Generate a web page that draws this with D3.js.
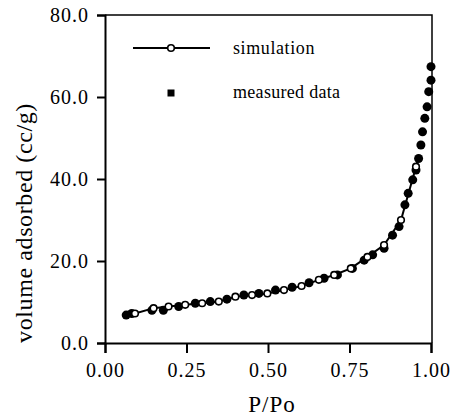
<!DOCTYPE html>
<html>
    <head>
        <title>Adsorption Isotherm</title>
        <script src="https://d3js.org/d3.v7.min.js"></script>
        <style>
            body { margin: 0; background: #fff; }
            text { font-family: "Liberation Serif", "DejaVu Serif", serif; fill: #000; }
        </style>
    </head>
    <body>
        <svg id="chart" width="453" height="416"></svg>
        <script>
            // measured data (filled dots)
            var measuredP = [0.065, 0.082, 0.144, 0.179, 0.226, 0.277, 0.323, 0.374, 0.426, 0.472, 0.523, 0.574, 0.626, 0.672, 0.713, 0.759, 0.795, 0.821, 0.856, 0.882, 0.902, 0.920, 0.930, 0.944, 0.954, 0.962, 0.969, 0.974, 0.981, 0.988, 0.993, 1.0, 1.0];
            var measuredV = [6.8, 7.2, 8.0, 8.0, 8.9, 9.7, 10.1, 10.7, 11.7, 12.1, 12.9, 13.6, 14.7, 15.8, 16.6, 18.2, 20.2, 21.5, 23.1, 26.3, 28.4, 33.7, 36.5, 39.8, 42.2, 45.0, 48.3, 51.5, 54.8, 57.6, 61.3, 64.1, 67.4];

            // simulation (open circles + line)
            var simP = [0.072, 0.092, 0.149, 0.195, 0.246, 0.298, 0.349, 0.400, 0.451, 0.498, 0.549, 0.603, 0.656, 0.703, 0.754, 0.805, 0.856, 0.908, 0.954, 0.962];
            var simV = [6.9, 7.2, 8.5, 8.9, 9.3, 9.7, 10.1, 11.3, 11.7, 12.1, 12.9, 13.9, 15.4, 16.6, 18.2, 21.0, 23.9, 30.0, 43.0, 45.5];
            var simMarked = [false, true, true, true, true, true, true, true, true, true, true, true, true, true, true, true, true, true, true, false];

            var xTicks = [0, 0.25, 0.5, 0.75, 1.0];
            var yTicks = [0, 20, 40, 60, 80];

            var svg = d3.select('#chart');
            var mLeft = 105, mRight = 431, mTop = 15, mBottom = 343;

            var x = d3.scaleLinear().domain([0, 1]).range([mLeft, mRight]);
            var y = d3.scaleLinear().domain([0, 80]).range([mBottom, mTop]);

            // frame
            svg.append('path')
                .attr('d', 'M' + mLeft + ',' + mTop + 'H' + (mRight + 1) + 'V' + mBottom)
                .attr('fill', 'none')
                .attr('stroke', '#000')
                .attr('stroke-width', 1.5);

            var xAxis = svg.append('g')
                .attr('transform', 'translate(0,' + mBottom + ')')
                .call(d3.axisBottom(x).tickValues(xTicks).tickFormat(d3.format('.2f')).tickSizeOuter(0).tickSize(10).tickPadding(10));
            var yAxis = svg.append('g')
                .attr('transform', 'translate(' + mLeft + ',0)')
                .call(d3.axisLeft(y).tickValues(yTicks).tickFormat(d3.format('.1f')).tickSizeOuter(0).tickSize(8).tickPadding(8));

            [xAxis, yAxis].forEach(function (a) {
                a.selectAll('path, line').attr('stroke', '#000').attr('stroke-width', 2);
                a.selectAll('text').style('font-size', '20px').style('letter-spacing', '1px')
                    .style('font-family', '"Liberation Serif", serif');
            });

            // axis titles
            svg.append('text')
                .attr('x', 272).attr('y', 412)
                .attr('text-anchor', 'middle')
                .style('font-size', '23px').style('letter-spacing', '1px')
                .text('P/Po');
            svg.append('text')
                .attr('transform', 'translate(32,223) rotate(-90)')
                .attr('text-anchor', 'middle')
                .style('font-size', '24px').style('letter-spacing', '0.6px')
                .text('volume adsorbed (cc/g)');

            // simulation line
            var simData = simP.map(function (p, i) { return { p: p, v: simV[i], m: simMarked[i] }; });
            var measData = measuredP.map(function (p, i) { return { p: p, v: measuredV[i] }; });

            svg.append('path')
                .datum(simData)
                .attr('fill', 'none')
                .attr('stroke', '#000')
                .attr('stroke-width', 2)
                .attr('d', d3.line().x((d) => x(d.p)).y((d) => y(d.v)));

            svg.selectAll('circle.meas')
                .data(measData)
                .enter()
                .append('circle')
                .attr('class', 'meas')
                .attr('cx', (d) => x(d.p))
                .attr('cy', (d) => y(d.v))
                .attr('r', 4.5)
                .attr('fill', '#000');

            svg.selectAll('circle.sim')
                .data(simData.filter((d) => d.m))
                .enter()
                .append('circle')
                .attr('class', 'sim')
                .attr('cx', (d) => x(d.p))
                .attr('cy', (d) => y(d.v))
                .attr('r', 3.3)
                .attr('fill', '#fff')
                .attr('stroke', '#000')
                .attr('stroke-width', 1.6);

            // legend
            var lg = svg.append('g');
            lg.append('line').attr('x1', 133).attr('x2', 210).attr('y1', 48).attr('y2', 48)
                .attr('stroke', '#000').attr('stroke-width', 2);
            lg.append('circle').attr('cx', 171).attr('cy', 48).attr('r', 3.3)
                .attr('fill', '#fff').attr('stroke', '#000').attr('stroke-width', 1.6);
            lg.append('rect').attr('x', 167.5).attr('y', 89.5).attr('width', 7).attr('height', 7).attr('fill', '#000');
            lg.append('text').attr('x', 233).attr('y', 54).style('font-size', '18px').style('letter-spacing', '0.6px').text('simulation');
            lg.append('text').attr('x', 233).attr('y', 98).style('font-size', '18px').style('letter-spacing', '0.3px').text('measured data');
        </script>
    </body>
</html>
